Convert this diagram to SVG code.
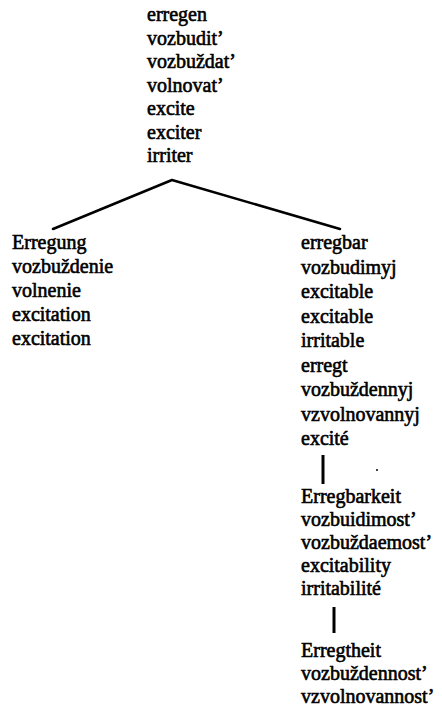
<svg xmlns="http://www.w3.org/2000/svg" width="442" height="712" viewBox="0 0 442 712">
  <style>
    text { font-family: "Liberation Serif", "Times New Roman", serif; font-size: 20px; fill: #000; stroke: #000; stroke-width: 0.6; }
    .edge { stroke: #000; stroke-width: 2.5; fill: none; stroke-linecap: round; stroke-linejoin: round; }
    .bar { stroke: #000; stroke-width: 3; fill: none; }
  </style>
  <rect width="442" height="712" fill="#fff"/>

  <!-- verb root -->
  <g id="node-erregen">
    <text x="147" y="21">erregen</text>
    <text x="147" y="44.5">vozbudit’</text>
    <text x="147" y="68">vozbuždat’</text>
    <text x="147" y="91.5">volnovat’</text>
    <text x="147" y="115">excite</text>
    <text x="147" y="138.5">exciter</text>
    <text x="147" y="162">irriter</text>
  </g>

  <!-- noun of action -->
  <g id="node-erregung">
    <text x="12" y="249">Erregung</text>
    <text x="12" y="273">vozbuždenie</text>
    <text x="12" y="297">volnenie</text>
    <text x="12" y="321">excitation</text>
    <text x="12" y="345">excitation</text>
  </g>

  <!-- adjectives -->
  <g id="node-erregbar">
    <text x="301" y="249">erregbar</text>
    <text x="301" y="273.5">vozbudimyj</text>
    <text x="301" y="298">excitable</text>
    <text x="301" y="322.5">excitable</text>
    <text x="301" y="347">irritable</text>
    <text x="301" y="371.5">erregt</text>
    <text x="301" y="396">vozbuždennyj</text>
    <text x="301" y="420.5">vzvolnovannyj</text>
    <text x="301" y="445">excité</text>
  </g>

  <!-- noun of quality -->
  <g id="node-erregbarkeit">
    <text x="301" y="503">Erregbarkeit</text>
    <text x="301" y="526">vozbuidimost’</text>
    <text x="301" y="549">vozbuždaemost’</text>
    <text x="301" y="572">excitability</text>
    <text x="301" y="595">irritabilité</text>
  </g>

  <!-- noun of state -->
  <g id="node-erregtheit">
    <text x="301" y="657">Erregtheit</text>
    <text x="301" y="680">vozbuždennost’</text>
    <text x="301" y="703">vzvolnovannost’</text>
  </g>

  <g id="connectors">
    <polyline class="edge" points="53,229 172,180 340,229"/>
    <line class="bar" x1="323" y1="455" x2="323" y2="484"/>
    <line class="bar" x1="334" y1="607" x2="334" y2="633"/>
  </g>

  <circle cx="377" cy="470" r="1" fill="#000"/>
</svg>
